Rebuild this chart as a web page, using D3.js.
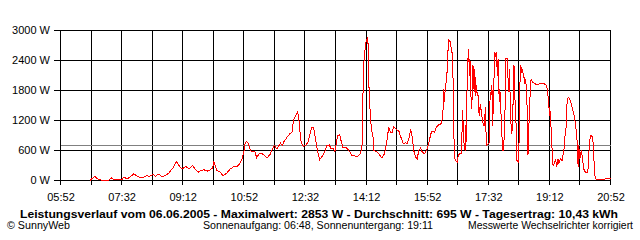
<!DOCTYPE html>
<html>
<head>
<meta charset="utf-8">
<script src="https://cdn.jsdelivr.net/npm/d3@7"></script>
<style>
  body { margin: 0; background: #fff; }
  svg { display: block; font-family: "Liberation Sans", Arial, sans-serif; }
</style>
</head>
<body>
<div id="chart"></div>
<script>
var times = [
  "06:40","06:48","06:55","07:11","07:15","07:20","07:32","07:36","07:41","07:49",
  "07:52","07:58","08:06","08:13","08:17","08:24","08:27","08:33","08:38","08:46",
  "08:49","08:56","09:02","09:07","09:11","09:17","09:22","09:28","09:33","09:38",
  "09:41","09:47","09:52","09:57","10:01","10:03","10:08","10:13","10:18","10:24",
  "10:30","10:36","10:41","10:45","10:49","10:52","10:54","10:56","10:59","11:03",
  "11:07","11:10","11:13","11:17","11:22","11:26","11:30","11:35","11:38","11:42",
  "11:46","11:52","11:55","11:57","12:02","12:07","12:11","12:13","12:17","12:20",
  "12:23","12:25","12:29","12:33","12:37","12:39","12:43","12:46","12:48","12:52",
  "12:56","13:00","13:04","13:08","13:12","13:14","13:18","13:21","13:24","13:26",
  "13:29","13:31","13:34","13:41","13:45","13:49","13:58","14:02","14:05","14:06",
  "14:07","14:08","14:10","14:11","14:12","14:14","14:15","14:17","14:19","14:21",
  "14:23","14:25","14:30","14:35","14:38","14:42","14:44","14:47","14:49","14:52",
  "14:55","14:57","15:00","15:06","15:08","15:13","15:17","15:19","15:22","15:25",
  "15:28","15:30","15:33","15:36","15:38","15:41","15:44","15:48","15:52","15:55",
  "15:58","16:00","16:04","16:07","16:11","16:14","16:17","16:18","16:19","16:20",
  "16:22","16:24","16:25","16:27","16:28","16:30","16:32","16:33","16:35","16:36",
  "16:37","16:38","16:41","16:43","16:45","16:48","16:49","16:50","16:52","16:54",
  "16:55","16:56","16:57","16:58","17:00","17:01","17:02","17:04","17:05","17:07",
  "17:08","17:09","17:10","17:11","17:12","17:14","17:15","17:17","17:19","17:21",
  "17:24","17:26","17:27","17:29","17:31","17:34","17:35","17:37","17:38","17:39",
  "17:41","17:42","17:44","17:45","17:47","17:48","17:49","17:50","17:51","17:52",
  "17:54","17:55","17:57","17:59","18:00","18:01","18:03","18:04","18:06","18:07",
  "18:08","18:10","18:11","18:13","18:14","18:15","18:16","18:18","18:19","18:21",
  "18:22","18:23","18:24","18:25","18:27","18:28","18:30","18:32","18:33","18:35",
  "18:36","18:37","18:38","18:39","18:40","18:41","18:43","18:44","18:49","18:52",
  "18:55","19:04","19:07","19:09","19:11","19:13","19:14","19:15","19:18","19:20",
  "19:22","19:24","19:26","19:27","19:30","19:33","19:36","19:37","19:40","19:41",
  "19:43","19:45","19:48","19:51","19:53","19:55","19:58","19:59","20:00","20:02",
  "20:04","20:06","20:08","20:11","20:15","20:16","20:18","20:20","20:23","20:25",
  "20:27","20:30","20:41","20:44","20:52"
];
var watts = [
  0,80,13,0,53,13,13,67,27,100,
  133,80,53,100,80,120,80,133,67,120,
  147,253,380,280,233,280,233,300,213,167,
  200,213,187,213,253,367,200,167,100,147,
  233,280,280,333,433,567,733,787,747,600,
  567,580,453,533,533,500,453,520,613,700,
  633,747,700,767,853,933,967,1200,1300,1380,
  1133,800,680,700,767,867,1053,1067,933,633,
  413,480,567,700,713,647,640,580,800,900,
  920,800,667,647,580,500,480,533,633,833,
  1733,2300,2567,2700,2767,2853,2853,1767,1300,1000,
  933,600,567,500,447,533,633,867,1067,967,
  967,1067,1040,980,900,733,753,733,833,1020,
  833,600,467,433,600,647,567,533,633,767,
  933,980,967,1067,1113,1113,1233,1433,1833,1567,
  1900,2033,2300,2833,2800,2767,2567,2567,1767,767,
  467,400,367,500,533,533,967,1400,767,600,
  1100,767,1633,2300,2633,2100,2433,1567,1433,2300,
  1967,1767,2233,1700,1900,1700,1767,1300,1533,1333,
  1100,1100,1467,700,720,767,1767,1733,1900,1100,
  1700,2567,2500,2567,2100,2433,1967,1567,1833,1500,
  1100,600,600,1167,1767,2433,2433,2100,1767,2233,
  1433,933,1000,1700,2300,2167,1433,1033,400,367,
  400,1567,2000,2300,2167,2200,2100,1933,2033,1767,
  1100,513,767,1367,1533,2000,2020,1967,1933,1913,
  1933,1933,1900,1800,1500,1300,1380,900,300,333,
  433,267,433,333,433,400,633,833,1133,1600,
  1667,1633,1533,1367,1267,1100,700,267,700,433,
  600,467,233,167,167,433,800,900,867,400,
  33,20,20,33,33
];
var average = 695;
var yTicks = [0, 600, 1200, 1800, 2400, 3000];
var xTickLabels = ["05:52","07:32","09:12","10:52","12:32","14:12","15:52","17:32","19:12","20:52"];

var titleText = "Leistungsverlauf vom 06.06.2005 - Maximalwert: 2853 W - Durchschnitt: 695 W - Tagesertrag: 10,43 kWh";
var footLeft = "\u00A9 SunnyWeb";
var footMid = "Sonnenaufgang: 06:48, Sonnenuntergang: 19:11";
var footRight = "Messwerte Wechselrichter korrigiert";

var W = 640, H = 240;
var m = { left: 60, right: 610, top: 30, bottom: 180 };

var parse = d3.timeParse("%H:%M");
var data = times.map(function (t, i) { return { t: parse(t), w: watts[i] }; });

var x = d3.scaleTime()
  .domain([parse(xTickLabels[0]), parse(xTickLabels[xTickLabels.length - 1])])
  .range([m.left, m.right]);
var y = d3.scaleLinear().domain([0, 3000]).range([m.bottom, m.top]);

// grid every 50 minutes, labels every 100
var gridTimes = d3.timeMinute.every(1).range(x.domain()[0], d3.timeMinute.offset(x.domain()[1], 1))
  .filter(function (d, i) { return i % 50 === 0; });

var svg = d3.select('#chart').append('svg').attr('width', W).attr('height', H);
var g = svg.append('g').attr('transform', 'translate(0.5,0.5)');

// horizontal grid + left ticks
g.selectAll('.hgrid').data(yTicks).enter().append('line')
  .attr('class', 'hgrid')
  .attr('x1', m.left - 7).attr('x2', m.right)
  .attr('y1', function (d) { return Math.round(y(d)); })
  .attr('y2', function (d) { return Math.round(y(d)); })
  .attr('stroke', '#000').attr('shape-rendering', 'crispEdges');

// vertical grid + bottom ticks
g.selectAll('.vgrid').data(gridTimes).enter().append('line')
  .attr('class', 'vgrid')
  .attr('x1', function (d) { return Math.round(x(d)); })
  .attr('x2', function (d) { return Math.round(x(d)); })
  .attr('y1', m.top).attr('y2', m.bottom + 4)
  .attr('stroke', '#000').attr('shape-rendering', 'crispEdges');

// average line
g.append('line')
  .attr('x1', m.left).attr('x2', m.right)
  .attr('y1', Math.round(y(average))).attr('y2', Math.round(y(average)))
  .attr('stroke', '#808080').attr('shape-rendering', 'crispEdges');

// power curve
var line = d3.line()
  .x(function (d) { return x(d.t); })
  .y(function (d) { return y(d.w); });
g.append('path')
  .datum(data)
  .attr('d', line)
  .attr('fill', 'none')
  .attr('stroke', '#ff0000')
  .attr('stroke-width', 1)
  .attr('shape-rendering', 'crispEdges');

// y labels
svg.selectAll('.ylab').data(yTicks).enter().append('text')
  .attr('class', 'ylab')
  .attr('x', 50).attr('y', function (d) { return y(d) + 4; })
  .attr('text-anchor', 'end')
  .style('font-size', '11px')
  .text(function (d) { return d + ' W'; });

// x labels
svg.selectAll('.xlab').data(xTickLabels).enter().append('text')
  .attr('class', 'xlab')
  .attr('x', function (d) { return x(parse(d)) + 1; })
  .attr('y', 201)
  .attr('text-anchor', 'middle')
  .style('font-size', '11px')
  .text(function (d) { return d; });

// title and footer
svg.append('text')
  .attr('x', 20).attr('y', 218)
  .attr('textLength', 598).attr('lengthAdjust', 'spacingAndGlyphs')
  .style('font-size', '11px').style('font-weight', 'bold')
  .text(titleText);

svg.append('text').attr('x', 7).attr('y', 229)
  .attr('textLength', 63).attr('lengthAdjust', 'spacingAndGlyphs')
  .style('font-size', '10px').text(footLeft);
svg.append('text').attr('x', 203).attr('y', 229)
  .attr('textLength', 230).attr('lengthAdjust', 'spacingAndGlyphs')
  .style('font-size', '10px').text(footMid);
svg.append('text').attr('x', 468).attr('y', 229)
  .attr('textLength', 165).attr('lengthAdjust', 'spacingAndGlyphs')
  .style('font-size', '10px').text(footRight);
</script>
</body>
</html>
